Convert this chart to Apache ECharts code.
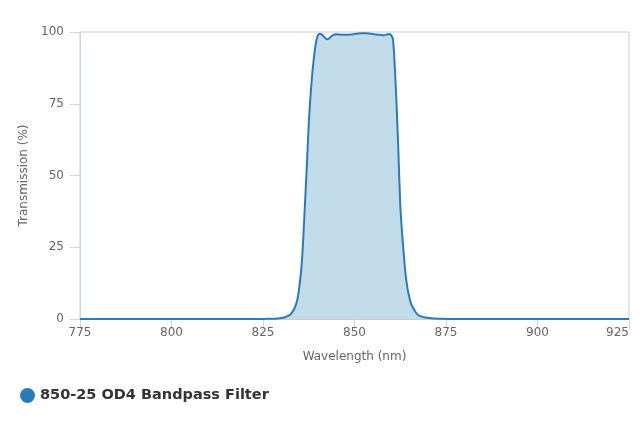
<!DOCTYPE html>
<html>
<head>
<meta charset="utf-8">
<script src="https://cdn.jsdelivr.net/npm/echarts@6/dist/echarts.min.js"></script>
<style>html,body{margin:0;padding:0;background:#fff}#c{width:640px;height:427px}</style>
</head>
<body>
<div id="c"></div>
<script>
const seriesName = '850-25 OD4 Bandpass Filter';
const wavelengths = [775, 800, 820, 824, 826, 828, 829, 830, 831, 831.5, 832, 832.5, 833, 833.5, 834, 834.5, 835, 835.5, 836, 836.5, 837, 837.5, 838, 838.5, 839, 839.5, 840, 840.5, 841, 841.5, 842, 842.5, 843, 843.5, 844, 845, 846, 847, 848, 849, 850, 851, 852, 853, 854, 855, 856, 857, 858, 858.5, 859, 859.5, 860, 860.5, 861, 861.5, 862, 862.5, 863, 863.5, 864, 864.5, 865, 865.5, 866, 866.5, 867, 867.5, 868, 868.5, 869, 870, 871, 872, 874, 876, 880, 900, 925];
const transmission = [0, 0, 0, 0.02, 0.05, 0.12, 0.2, 0.35, 0.6, 0.9, 1.2, 1.6, 2.4, 3.5, 5, 7.5, 12, 18, 28, 41, 54, 68, 78, 86, 92, 96.5, 98.8, 99.4, 99.2, 98.6, 97.9, 97.5, 97.7, 98.3, 98.8, 99.2, 99.1, 99.0, 99.0, 99.1, 99.3, 99.5, 99.6, 99.6, 99.5, 99.3, 99.1, 99.0, 98.9, 99.0, 99.2, 99.3, 98.9, 97.5, 88, 74.5, 58, 40, 30, 22, 15, 10.5, 7.5, 5.2, 3.9, 2.8, 1.9, 1.3, 1.0, 0.8, 0.6, 0.4, 0.25, 0.15, 0.05, 0.02, 0, 0, 0];
const xTicks = [775, 925, 25];
const yTicks = [0, 100, 25];

const data = wavelengths.map((w, i) => [w, transmission[i]]);
const chart = echarts.init(document.getElementById('c'), null, {renderer: 'canvas'});
const font = '"DejaVu Sans", sans-serif';
chart.setOption({
  animation: false,
  grid: {left: 80, right: 11, top: 32, bottom: 108, show: true, borderColor: '#cccccc', borderWidth: 1},
  legend: {
    left: 20, top: 388, padding: 0, icon: 'circle', itemWidth: 15, itemHeight: 15, itemGap: 6,
    textStyle: {fontFamily: '"DejaVu Sans", sans-serif', fontWeight: 'bold', fontSize: 14.5, color: '#333333'},
    data: [seriesName]
  },
  xAxis: {
    type: 'value', min: xTicks[0], max: xTicks[1], interval: xTicks[2],
    name: 'Wavelength (nm)', nameLocation: 'middle', nameGap: 32,
    nameTextStyle: {fontFamily: font, fontSize: 12, color: '#666666'},
    axisLine: {show: true, lineStyle: {color: '#cccccc', width: 1}},
    axisTick: {show: true, length: 10, lineStyle: {color: '#ccd6eb'}},
    axisLabel: {margin: 8, fontFamily: font, fontSize: 12, color: '#666666', alignMaxLabel: 'right'},
    splitLine: {show: false}
  },
  yAxis: {
    type: 'value', min: yTicks[0], max: yTicks[1], interval: yTicks[2],
    name: 'Transmission (%)', nameLocation: 'middle', nameGap: 50,
    nameTextStyle: {fontFamily: font, fontSize: 12, color: '#666666'},
    axisLine: {show: true, lineStyle: {color: '#ccd6eb', width: 1}},
    axisTick: {show: true, length: 10, lineStyle: {color: '#ccd6eb'}},
    axisLabel: {margin: 16, fontFamily: font, fontSize: 12, color: '#666666'},
    splitLine: {show: false}
  },
  series: [{
    name: seriesName, type: 'line', data: data, smooth: 0.3, symbol: 'none',
    lineStyle: {color: '#2b7bb9', width: 2},
    itemStyle: {color: '#2b7bb9'},
    areaStyle: {color: '#c2dbe9', opacity: 1}
  }]
});
</script>
</body>
</html>
